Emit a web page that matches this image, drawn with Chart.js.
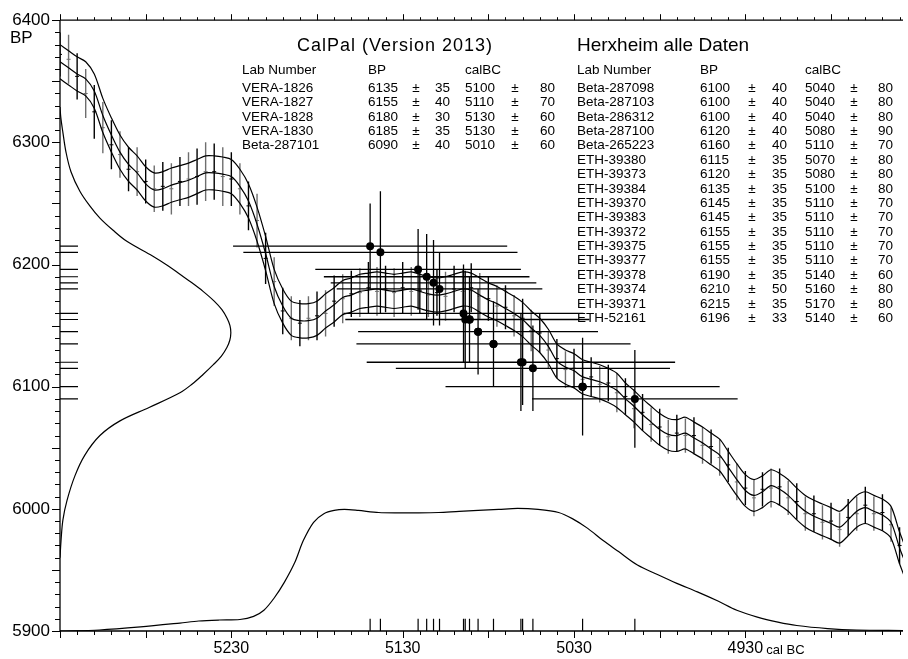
<!DOCTYPE html>
<html>
<head>
<meta charset="utf-8">
<script src="https://cdn.jsdelivr.net/npm/chart.js@4/dist/chart.umd.min.js"></script>
<style>
  html, body { margin: 0; padding: 0; background: #fff; }
  canvas { display: block; }
</style>
</head>
<body>
<canvas id="Grafico" width="908" height="659"></canvas>
<script>
// axis labels
const xTickLabels = [5230, 5130, 5030, 4930];
const yTickLabels = [5900, 6000, 6100, 6200, 6300, 6400];

// dates (first 5 = CalPal table, rest = Herxheim table)
const labNumbers = ['VERA-1826', 'VERA-1827', 'VERA-1828', 'VERA-1830', 'Beta-287101',
  'Beta-287098', 'Beta-287103', 'Beta-286312', 'Beta-287100', 'Beta-265223',
  'ETH-39380', 'ETH-39373', 'ETH-39384', 'ETH-39370', 'ETH-39383', 'ETH-39372',
  'ETH-39375', 'ETH-39377', 'ETH-39378', 'ETH-39374', 'ETH-39371', 'ETH-52161'];
const bpValues = [6135, 6155, 6180, 6185, 6090,
  6100, 6100, 6100, 6120, 6160,
  6115, 6120, 6135, 6145, 6145, 6155,
  6155, 6155, 6190, 6210, 6215, 6196];
const bpErrors = [35, 40, 30, 35, 40,
  40, 40, 40, 40, 40,
  35, 35, 35, 35, 35, 35,
  35, 35, 35, 50, 35, 33];
const calValues = [5100, 5110, 5130, 5130, 5010,
  5040, 5040, 5040, 5080, 5110,
  5070, 5080, 5100, 5110, 5110, 5110,
  5110, 5110, 5140, 5160, 5170, 5140];
const calErrors = [80, 70, 60, 60, 60,
  80, 80, 80, 90, 70,
  80, 80, 80, 70, 70, 70,
  70, 70, 60, 80, 80, 60];
// cal BC position of each dot as it sits in the plot
const dotCal = [5077, 5093.5, 5108.5, 5112, 4994.5,
  5025, 5025, 5025, 5061, 5094.5,
  5054, 5060, 5077, 5086, 5086, 5091,
  5091, 5091, 5116, 5143, 5149, 5121];
const leftTableCount = 5;

// calibration curve
const curveYears = [5330, 5325, 5320, 5315, 5310, 5305, 5300, 5295, 5290, 5285,
  5280, 5275, 5270, 5265, 5260, 5255, 5250, 5245, 5240, 5235,
  5230, 5225, 5220, 5215, 5210, 5205, 5200, 5195, 5190, 5185,
  5180, 5175, 5170, 5165, 5160, 5155, 5150, 5145, 5140, 5135,
  5130, 5125, 5120, 5115, 5110, 5105, 5100, 5095, 5090, 5085,
  5080, 5075, 5070, 5065, 5060, 5055, 5050, 5045, 5040, 5035,
  5030, 5025, 5020, 5015, 5010, 5005, 5000, 4995, 4990, 4985,
  4980, 4975, 4970, 4965, 4960, 4955, 4950, 4945, 4940, 4935,
  4930, 4925, 4920, 4915, 4910, 4905, 4900, 4895, 4890, 4885,
  4880, 4875, 4870, 4865, 4860, 4855, 4850, 4845, 4840, 4835];
const curveBP = [6366, 6361, 6356, 6352, 6342, 6322, 6306, 6292, 6282, 6275,
  6266, 6261, 6262, 6265, 6267, 6269, 6272, 6275, 6275, 6274,
  6272, 6264, 6252, 6233, 6209, 6182, 6166, 6156, 6154, 6154,
  6156, 6162, 6167, 6173, 6175, 6178, 6179, 6180, 6179, 6178,
  6179, 6180, 6178, 6176, 6175, 6176, 6178, 6180, 6179, 6175,
  6171, 6168, 6164, 6160, 6155, 6148, 6142, 6133, 6121, 6116,
  6113, 6108, 6106, 6104, 6101, 6097, 6090, 6084, 6077, 6071,
  6065, 6061, 6060, 6062, 6058, 6054, 6049, 6044, 6034, 6024,
  6015, 6011, 6014, 6019, 6016, 6011, 6004, 5998, 5994, 5991,
  5988, 5985, 5991, 5998, 6001, 5998, 5995, 5989, 5968, 5950];
const curveErr = [14, 14, 14, 14, 14, 14, 14, 14, 14, 14,
  14, 14, 14, 14, 14, 14, 14, 14, 14, 14,
  14, 14, 14, 14, 14, 14, 14, 14, 14, 14,
  14, 14, 14, 14, 14, 14, 14, 14, 14, 14,
  14, 14, 14, 14, 14, 14, 14, 14, 14, 14,
  14, 14, 14, 14, 14, 14, 14, 14, 14, 14,
  14, 14, 14, 14, 14, 14, 13, 13, 13, 13,
  13, 13, 13, 13, 13, 13, 13, 13, 13, 13,
  13, 13, 13, 13, 13, 13, 13, 13, 13, 13,
  13, 13, 13, 13, 13, 13, 13, 13, 13, 13];
// raw calibration data (same years as the curve)
const rawBP = [6372, 6368, 6354, 6340, 6325, 6312, 6298, 6290, 6278, 6276,
  6268, 6262, 6264, 6262, 6268, 6270, 6272, 6276, 6276, 6272,
  6270, 6262, 6248, 6236, 6205, 6186, 6162, 6156, 6152, 6156,
  6158, 6160, 6170, 6172, 6176, 6177, 6181, 6178, 6180, 6177,
  6181, 6178, 6179, 6175, 6177, 6174, 6180, 6178, 6181, 6174,
  6172, 6166, 6165, 6158, 6156, 6146, 6144, 6130, 6123, 6114,
  6115, 6106, 6108, 6102, 6103, 6095, 6092, 6082, 6079, 6069,
  6067, 6059, 6062, 6060, 6060, 6052, 6051, 6042, 6036, 6022,
  6017, 6009, 6016, 6017, 6018, 6009, 6006, 5996, 5996, 5989,
  5990, 5983, 5993, 5996, 6003, 5996, 5997, 5987, 5970, 5952];
const rawErr = [18, 20, 19, 20, 22, 21, 20, 19, 18, 20,
  18, 19, 20, 21, 20, 22, 23, 24, 23, 24,
  22, 21, 20, 22, 21, 20, 19, 18, 19, 18,
  20, 19, 21, 20, 19, 20, 21, 20, 19, 20,
  21, 20, 19, 18, 19, 20, 19, 18, 20, 19,
  18, 17, 18, 17, 16, 17, 16, 15, 16, 15,
  16, 15, 16, 15, 15, 16, 15, 16, 15, 14,
  15, 14, 15, 14, 15, 15, 14, 15, 14, 15,
  14, 15, 14, 16, 15, 14, 15, 14, 15, 14,
  15, 14, 15, 14, 15, 14, 15, 14, 15, 14];

// calibrated probability (bottom), height on BP scale
const calProbYears = [5330, 5307, 5283, 5260, 5249, 5237, 5225, 5217, 5211, 5205,
  5199, 5193, 5188, 5182, 5176, 5170, 5164, 5156, 5144, 5132,
  5121, 5109, 5097, 5086, 5074, 5063, 5051, 5039, 5031, 5022,
  5013, 5004, 4993, 4981, 4970, 4958, 4946, 4935, 4923, 4911,
  4900, 4882, 4865, 4838];
const calProbBP = [5900, 5900.8, 5903.3, 5906.5, 5908.2, 5909, 5909.4, 5912, 5917, 5927,
  5940, 5956, 5974, 5989, 5996, 5998.7, 5999.5, 5998.7, 5997, 5996.7,
  5996.7, 5997, 5998, 5998.7, 5999.5, 6000.3, 5999.5, 5997, 5992, 5984,
  5974, 5965, 5954, 5946, 5939, 5932, 5924.5, 5917, 5911.4, 5907.3,
  5904.5, 5902, 5900.8, 5900.4];

// BP probability (left), width on cal scale
const bpProbBP = [6329, 6320, 6308, 6292, 6276, 6260, 6248, 6238, 6228, 6219,
  6207, 6199, 6192, 6185, 6178, 6170, 6163, 6156, 6150, 6144,
  6138, 6132, 6125, 6118, 6110, 6102, 6095, 6083, 6072, 6060,
  6044, 6027, 6007, 5991, 5974, 5960];
const bpProbCal = [5330, 5329.5, 5328.3, 5326.5, 5323.6, 5318.4, 5312.6, 5306.7, 5299, 5291,
  5276, 5267, 5260, 5253, 5246.5, 5240, 5235.5, 5232.5, 5230.8, 5230.3,
  5230.9, 5232.6, 5235.8, 5240.5, 5246.5, 5253, 5260, 5278, 5295, 5306.7,
  5315.5, 5321.3, 5325.9, 5328.3, 5329.4, 5330];

const FONT = '"Liberation Sans", Arial, sans-serif';
const X_MIN = 4838, X_MAX = 5330, Y_MIN = 5900, Y_MAX = 6400;
const LEFT_TICK_YEARS = 10.5; // short marks on the BP axis
const BOTTOM_TICK_BP = 10;    // short marks on the cal axis

function segs(list) {
  const pts = [];
  list.forEach(function(s) {
    pts.push({x: s[0], y: s[1]}, {x: s[2], y: s[3]}, {x: s[2], y: null});
  });
  return pts;
}

function lineSet(data, color, width, tension) {
  return {
    data: data, showLine: true, borderColor: color, borderWidth: width,
    pointRadius: 0, tension: tension || 0, spanGaps: false, fill: false
  };
}

// build the datasets
const curveMid = curveYears.map((v, i) => ({x: v, y: curveBP[i]}));
const curveUp = curveYears.map((v, i) => ({x: v, y: curveBP[i] + curveErr[i]}));
const curveLo = curveYears.map((v, i) => ({x: v, y: curveBP[i] - curveErr[i]}));

const rawEven = [], rawOdd = [], rawDashEven = [], rawDashOdd = [];
curveYears.forEach(function(v, i) {
  const s = [v, rawBP[i] - rawErr[i], v, rawBP[i] + rawErr[i]];
  if (i % 2 === 0) { rawEven.push(s); rawDashEven.push({x: v, y: rawBP[i]}); }
  else { rawOdd.push(s); rawDashOdd.push({x: v, y: rawBP[i]}); }
});

const hBars = [], vBars = [], dots = [], leftTicks = [], bottomTicks = [];
labNumbers.forEach(function(lab, i) {
  hBars.push([dotCal[i] + calErrors[i], bpValues[i], dotCal[i] - calErrors[i], bpValues[i]]);
  vBars.push([dotCal[i], bpValues[i] - bpErrors[i], dotCal[i], bpValues[i] + bpErrors[i]]);
  dots.push({x: dotCal[i], y: bpValues[i]});
  leftTicks.push([X_MAX, bpValues[i], X_MAX - LEFT_TICK_YEARS, bpValues[i]]);
  bottomTicks.push([dotCal[i], Y_MIN, dotCal[i], Y_MIN + BOTTOM_TICK_BP]);
});

const datasets = [
  { data: dots, pointRadius: 4, pointBackgroundColor: '#000', pointBorderWidth: 0, showLine: false },
  lineSet(segs(hBars), '#000', 1.3),
  lineSet(segs(vBars), '#000', 1.3),
  lineSet(curveUp, '#000', 1.2, 0.3),
  lineSet(curveMid, '#000', 1.2, 0.3),
  lineSet(curveLo, '#000', 1.2, 0.3),
  lineSet(segs(rawEven), '#000', 1.4),
  lineSet(segs(rawOdd), '#6e6e6e', 1.4),
  { data: rawDashEven, pointStyle: 'line', pointRadius: 2, borderColor: '#000', borderWidth: 1, showLine: false },
  { data: rawDashOdd, pointStyle: 'line', pointRadius: 2, borderColor: '#6e6e6e', borderWidth: 1, showLine: false },
  lineSet(segs(leftTicks), '#000', 1.2),
  lineSet(segs(bottomTicks), '#000', 1.2),
  lineSet(calProbYears.map((v, i) => ({x: v, y: calProbBP[i]})), '#000', 1.2, 0.3),
  lineSet(bpProbBP.map((v, i) => ({x: bpProbCal[i], y: v})), '#000', 1.2, 0.35)
];

// axis lines and tick marks
const axesPlugin = {
  id: 'axesLines',
  afterDraw(chart) {
    const ctx = chart.ctx, a = chart.chartArea, x = chart.scales.x, y = chart.scales.y;
    ctx.save();
    ctx.strokeStyle = '#000';
    ctx.lineWidth = 1.3;
    function ln(x1, y1, x2, y2) { ctx.beginPath(); ctx.moveTo(x1, y1); ctx.lineTo(x2, y2); ctx.stroke(); }
    ln(a.left, a.top, a.left, a.bottom);
    ln(a.left, a.top, a.right, a.top);
    ln(a.left, a.bottom, a.right, a.bottom);
    ctx.lineWidth = 1;
    for (let v = 4840; v <= X_MAX; v += 10) {
      const px = Math.round(x.getPixelForValue(v)) + 0.5;
      const len = ((5230 - v) % 50 === 0) ? 7 : 4;
      ln(px, a.bottom, px, a.bottom + len);
      ln(px, a.top, px, a.top - len + 1);
    }
    for (let v = Y_MIN; v <= Y_MAX; v += 10) {
      const py = Math.round(y.getPixelForValue(v)) + 0.5;
      const len = (v % 50 === 0) ? 8 : 5;
      ln(a.left - len, py, a.left, py);
    }
    ctx.restore();
  }
};

// titles and tables
const textPlugin = {
  id: 'texts',
  afterDraw(chart) {
    const ctx = chart.ctx;
    ctx.save();
    ctx.fillStyle = '#000';
    ctx.textBaseline = 'alphabetic';
    ctx.font = '17px ' + FONT;
    ctx.fillText('BP', 10, 43);

    ctx.font = '13px ' + FONT;
    const px4930 = chart.scales.x.getPixelForValue(4930);
    ctx.fillText('cal BC', px4930 + 21, 654);

    ctx.font = '18px ' + FONT;
    ctx.letterSpacing = '1px';
    ctx.fillText('CalPal (Version 2013)', 297, 51);
    ctx.letterSpacing = '0px';
    ctx.font = '19px ' + FONT;
    ctx.fillText('Herxheim alle Daten', 577, 51);

    const cols = [
      {lab: 242, bp: 368, pm1: 416, err1: 450, cal: 465, pm2: 515, err2: 555},
      {lab: 577, bp: 700, pm1: 752, err1: 787, cal: 805, pm2: 854, err2: 893}
    ];
    ctx.font = '13.5px ' + FONT;
    cols.forEach(function(c) {
      ctx.textAlign = 'left';
      ctx.fillText('Lab Number', c.lab, 74);
      ctx.fillText('BP', c.bp, 74);
      ctx.fillText('calBC', c.cal, 74);
    });
    labNumbers.forEach(function(lab, i) {
      const c = i < leftTableCount ? cols[0] : cols[1];
      const row = i < leftTableCount ? i : i - leftTableCount;
      const yy = 92 + row * 14.37;
      ctx.textAlign = 'left';
      ctx.fillText(lab, c.lab, yy);
      ctx.fillText(String(bpValues[i]), c.bp, yy);
      ctx.fillText(String(calValues[i]), c.cal, yy);
      ctx.textAlign = 'center';
      ctx.fillText('\u00b1', c.pm1, yy);
      ctx.fillText('\u00b1', c.pm2, yy);
      ctx.textAlign = 'right';
      ctx.fillText(String(bpErrors[i]), c.err1, yy);
      ctx.fillText(String(calErrors[i]), c.err2, yy);
    });
    ctx.restore();
  }
};

const contexto = document.getElementById('Grafico').getContext('2d');
const Grafico = new Chart(contexto, {
  type: 'scatter',
  data: { datasets: datasets },
  options: {
    responsive: false,
    animation: false,
    devicePixelRatio: 1,
    layout: { padding: { top: 18, right: 1, left: 0, bottom: 0 } },
    plugins: { legend: { display: false }, tooltip: { enabled: false } },
    scales: {
      x: {
        type: 'linear', reverse: true, min: X_MIN, max: X_MAX,
        grid: { display: false, drawTicks: false },
        border: { display: false },
        afterBuildTicks: function(s) { s.ticks = xTickLabels.map(v => ({value: v})); },
        afterFit: function(s) { s.height = 28; },
        ticks: { padding: 8, color: '#000', font: { family: FONT, size: 16 }, maxRotation: 0, autoSkip: false,
          callback: function(v) { return String(v); } }
      },
      y: {
        type: 'linear', min: Y_MIN, max: Y_MAX,
        grid: { display: false, drawTicks: false },
        border: { display: false },
        afterBuildTicks: function(s) { s.ticks = yTickLabels.map(v => ({value: v})); },
        afterFit: function(s) { s.width = 60; },
        ticks: { padding: 10, color: '#000', font: { family: FONT, size: 17 },
          callback: function(v) { return String(v); } }
      }
    }
  },
  plugins: [axesPlugin, textPlugin]
});
</script>
</body>
</html>
